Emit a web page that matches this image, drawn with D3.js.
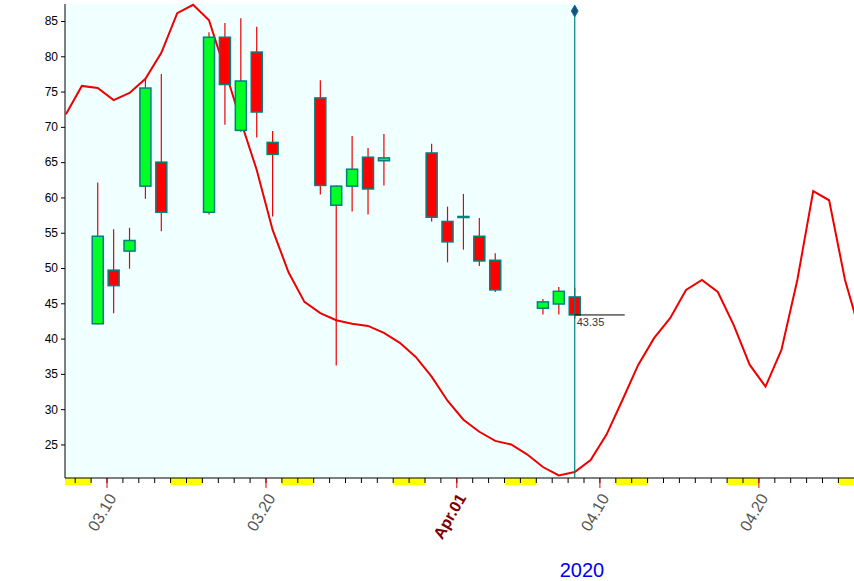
<!DOCTYPE html>
<html><head><meta charset="utf-8">
<script src="https://cdn.jsdelivr.net/npm/d3@7"></script>
<style>body{margin:0;background:#fff}svg{display:block;font-family:"Liberation Sans",Arial,sans-serif}</style>
</head><body><svg id="c" width="854" height="581"></svg>
<script>
const candleDates = ["2020-03-09","2020-03-10","2020-03-11","2020-03-12","2020-03-13","2020-03-16","2020-03-17","2020-03-18","2020-03-19","2020-03-20","2020-03-23","2020-03-24","2020-03-25","2020-03-26","2020-03-27","2020-03-30","2020-03-31","2020-04-01","2020-04-02","2020-04-03","2020-04-06","2020-04-07","2020-04-08"];
const opens  = [42.1,49.7,52.4,61.6,65.0,57.9,82.7,69.5,80.6,67.8,74.1,58.9,61.6,65.7,65.2,66.3,56.6,57.2,54.5,51.1,44.3,44.9,45.9];
const closes = [54.5,47.5,53.9,75.5,57.9,82.7,76.0,76.5,72.1,66.1,61.7,61.6,64.0,61.2,65.6,57.2,53.7,57.3,51.0,46.9,45.2,46.7,43.35];
const highs  = [62.1,55.5,55.7,76.8,77.5,83.4,84.7,85.4,84.2,69.4,76.6,61.7,68.7,67.0,69.0,67.6,58.7,60.5,57.1,52.1,45.6,47.3,47.2];
const lows   = [42.0,43.6,49.9,59.8,55.2,57.6,70.3,69.3,68.5,57.3,60.4,36.2,58.0,57.6,61.7,56.6,50.8,52.6,50.3,46.6,43.4,43.4,42.8];
const lineStart = "2020-03-07";
const lineValues = [71.8,75.8,75.5,73.8,74.8,76.8,80.5,86.1,87.3,85.1,78.1,70.8,63.9,55.4,49.4,45.2,43.6,42.6,42.1,41.8,40.8,39.4,37.4,34.6,31.2,28.5,26.8,25.5,25.0,23.6,21.8,20.6,21.1,22.8,26.4,31.3,36.3,40.1,42.9,46.9,48.3,46.6,41.9,36.3,33.2,38.4,48.3,60.9,59.6,48.3,40.5];
const yTicks = [25,30,35,40,45,50,55,60,65,70,75,80,85];
const xLabels = [["2020-03-10","03.10"],["2020-03-20","03.20"],["2020-04-01","Apr.01"],["2020-04-10","04.10"],["2020-04-20","04.20"]];
const lastPrice = 43.35;
const yearLabel = "2020";

const P = d3.timeParse("%Y-%m-%d");
const svg = d3.select("#c");
const L=65,R=854,T=4,B=478;
const x = d3.scaleTime().domain([P("2020-03-10"),P("2020-03-20")]).range([107,266]);
const y = d3.scaleLinear().domain([45,85]).range([303.3,21]);
const ctr = d => x(d3.timeHour.offset(d,10));
const cur = ctr(P(candleDates[candleDates.length-1]));

svg.append("rect").attr("x",L).attr("y",T).attr("width",cur-L).attr("height",B-T).attr("fill","#f0ffff");

const days = d3.timeDay.range(P("2020-03-06"),P("2020-04-28"));
days.forEach(d=>{
  const x0=Math.max(L,x(d)), x1=Math.min(R,x(d3.timeDay.offset(d,1)));
  if(x1<=x0) return;
  if(d.getDay()===0||d.getDay()===6) svg.append("rect").attr("x",x0).attr("y",B).attr("width",x1-x0).attr("height",7).attr("fill","#ffff00");
});
days.forEach(d=>{const xx=x(d); if(xx>=L&&xx<=R) svg.append("line").attr("x1",xx).attr("x2",xx).attr("y1",B).attr("y2",B+5).attr("stroke","#000");});
xLabels.forEach(([ds,t])=>{
  const xx=x(P(ds));
  svg.append("line").attr("x1",xx).attr("x2",xx).attr("y1",B).attr("y2",B+10).attr("stroke","#e00000");
  const isM=t.startsWith("Apr");
  svg.append("text").attr("transform",`translate(${xx+5},${B+17}) rotate(-60)`).attr("text-anchor","end").attr("dy","0.35em")
    .attr("font-size",16).attr("font-weight",isM?"bold":"normal").attr("fill",isM?"#800000":"#555").text(t);
});
svg.append("line").attr("x1",L).attr("x2",R).attr("y1",B).attr("y2",B).attr("stroke","#000");

const ya=svg.append("g").attr("transform",`translate(${L},0)`).call(d3.axisLeft(y).tickValues(yTicks).tickSize(4).tickSizeOuter(0));
ya.select(".domain").attr("d",`M0,${T}V${B}`);
ya.selectAll("text").attr("font-size",12).attr("fill","#000").attr("font-family","Liberation Sans, Arial");

const ls=P(lineStart);
const lineData=lineValues.map((v,i)=>[ctr(d3.timeDay.offset(ls,i)),y(v)]);
svg.append("defs").append("clipPath").attr("id","cp").append("rect").attr("x",L).attr("y",0).attr("width",R-L).attr("height",B);
svg.append("path").attr("clip-path","url(#cp)").attr("d",d3.line()(lineData)).attr("fill","none").attr("stroke","#ee0000").attr("stroke-width",2);

const bw=11;
candleDates.forEach((ds,i)=>{
  const cx=ctr(P(ds));
  svg.append("line").attr("x1",cx).attr("x2",cx).attr("y1",y(highs[i])).attr("y2",y(lows[i])).attr("stroke","#ee0000").attr("stroke-width",1.2);
  const up=closes[i]>=opens[i];
  const t=y(Math.max(opens[i],closes[i])), b=y(Math.min(opens[i],closes[i]));
  svg.append("rect").attr("x",cx-bw/2).attr("y",t).attr("width",bw).attr("height",Math.max(1,b-t))
    .attr("fill",up?"#00ff22":"#ff0000").attr("stroke","#008080").attr("stroke-width",1.5);
});

svg.append("line").attr("x1",cur).attr("x2",cur).attr("y1",11).attr("y2",B).attr("stroke","#008080").attr("stroke-width",1.2);
svg.append("path").attr("d",d3.symbol(d3.symbolDiamond,40)()).attr("transform",`translate(${cur},11)`).attr("fill","#1a4a8a").attr("stroke","#008080");
svg.append("line").attr("x1",cur).attr("x2",cur+50).attr("y1",y(lastPrice)).attr("y2",y(lastPrice)).attr("stroke","#000");
svg.append("text").attr("x",cur+2).attr("y",y(lastPrice)+11).attr("font-size",11).attr("fill","#333").text(lastPrice.toFixed(2));

svg.append("text").attr("x",582).attr("y",577).attr("text-anchor","middle").attr("font-size",20).attr("fill","#0000ee").text(yearLabel);
</script></body></html>
